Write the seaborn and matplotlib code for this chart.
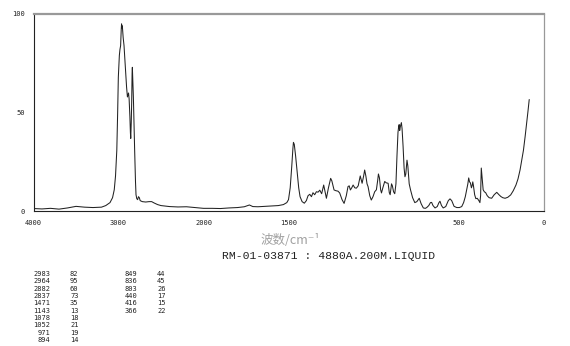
import numpy as np
import pandas as pd
import matplotlib
matplotlib.use("Agg")
import matplotlib.pyplot as plt
from matplotlib.ticker import FixedLocator, NullFormatter
import seaborn as sns

# ---- data ----
wavenumber = [
    4000, 3900, 3800, 3700, 3600, 3500, 3450, 3400, 3300, 3200, 3150, 3100, 3070, 3050, 3035,
    3020, 3010, 3002, 2990, 2983, 2975, 2968, 2964, 2960, 2955, 2945, 2935, 2925, 2916, 2905,
    2895, 2888, 2882, 2875, 2866, 2860, 2856, 2850, 2845, 2840, 2837, 2833, 2825, 2818, 2810,
    2800, 2794, 2785, 2775, 2765, 2755, 2745, 2720, 2680, 2640, 2610, 2580, 2540, 2500, 2400,
    2300, 2200, 2100, 2000,
    1950, 1900, 1850, 1800, 1760, 1730, 1710, 1680, 1640, 1600, 1560, 1530, 1510, 1500, 1490,
    1481, 1474, 1471, 1466, 1458, 1448, 1440, 1432, 1420, 1407, 1395, 1385, 1375, 1365, 1356,
    1346, 1336, 1326, 1316, 1305, 1293, 1285, 1277, 1265, 1252, 1245, 1232, 1220, 1209, 1199,
    1185, 1173, 1160, 1150, 1143, 1136, 1128, 1120, 1110, 1101, 1090, 1078, 1072, 1067, 1058,
    1052, 1045, 1038, 1032, 1022, 1013, 1003, 993, 983, 975, 971, 965, 958, 953, 945, 934,
    925, 914, 907, 902, 897, 894, 889, 882, 875, 868, 862, 856, 852, 849, 846, 842, 836, 832,
    826, 820, 815, 810, 803, 798, 790, 782, 770, 757, 745, 731, 720, 707, 695, 687, 675, 665,
    658, 650, 638, 625, 615, 609, 600, 590, 575, 560, 550, 540, 526, 510, 495, 481, 470, 460,
    452, 445, 440, 435, 430, 424, 420, 416, 412, 405, 398, 390, 380, 374, 370, 368, 366, 362,
    355, 348, 340, 331, 320, 305, 290, 275, 262, 251, 240, 226, 210, 193, 178, 162, 150, 138,
    128, 118, 108, 99, 91, 84,
]
intensity = [
    1.5, 1.3, 1.6, 1.2, 1.8, 2.6, 2.4, 2.2, 2.0, 2.2, 3.0, 4.5, 7, 11, 18,
    31, 50, 68, 79, 82, 84, 92, 95, 93, 94, 88, 84, 77, 70, 63,
    58, 59, 60, 57, 48, 40, 37, 45, 55, 70, 73, 68, 58, 45, 31,
    15, 8.5, 6.5, 6, 7.5, 7, 5.5, 5, 4.8, 5, 5, 4.3, 3.5, 3, 2.5,
    2.3, 2.4, 2.0, 1.6,
    1.6, 1.5, 1.8, 2.0, 2.4, 3.3, 2.5, 2.4, 2.6, 2.8, 3.0, 3.5, 4.5, 6, 12,
    22.7, 32, 35, 34, 28, 19, 12, 7.5, 5, 4.2, 5.5, 8, 8.7, 7.5, 9.5,
    8.5, 10, 9.8, 10.8, 9, 13.4, 10, 6.7, 12, 16.8, 15.5, 10.9, 10.5, 10.3, 9.4,
    6, 4.1, 8, 12.6, 13, 10.9, 12, 13.4, 12, 11.8, 13, 18, 16, 14.3, 18,
    21, 18, 14, 12.6, 8, 5.8, 7.5, 10, 11, 16, 19, 17, 11, 9.4, 12, 15.2,
    14.5, 14.3, 9.5, 8.5, 12, 14, 13, 10, 9, 14, 28, 40, 43, 44, 41, 43, 45, 42,
    33, 22, 17.6, 19, 26, 23, 14, 10.9, 7, 4.5, 5, 6.7, 4, 1.8, 1.6, 2, 3, 4.5,
    4.6, 3, 1.8, 2.5, 4.5, 5.2, 3, 1.8, 2.5, 5.5, 6.4, 5.5, 2.6, 2, 2, 2.5, 4.5, 7.5,
    11, 14, 17, 15, 14.5, 12, 13, 15, 13, 8.5, 6.5, 6.7, 5.5, 4.5, 8, 15, 22, 18,
    11, 10, 9.5, 8, 7, 6.7, 8.5, 9.7, 8.5, 7.6, 7, 6.7, 7.2, 8.4, 10.5, 13.4, 16.5, 21,
    26, 31, 38, 44.8, 51, 56.7,
]

peak_wn = [2983, 2964, 2882, 2837, 1471, 1143, 1078, 1052, 971, 894,
           849, 836, 803, 440, 416, 366]
peak_int = [82, 95, 60, 73, 35, 13, 18, 21, 19, 14,
            44, 45, 26, 17, 15, 22]

x_tick_labels = ["4000", "3000", "2000", "1500", "500", "0"]
x_tick_values = [4000, 3000, 2000, 1500, 500, 0]
y_tick_values = [0, 50, 100]

x_label = "波数/cm⁻¹"
sample_id = "RM-01-03871 : 4880A.200M.LIQUID"

df = pd.DataFrame({"wavenumber": wavenumber, "intensity": intensity})

sns.set_theme(style="white")
plt.rcParams["font.family"] = ["DejaVu Sans"]

fig = plt.figure(figsize=(5.70, 3.46), dpi=100)
ax = fig.add_axes([33.5 / 570, 1 - 211.5 / 346, 510 / 570, 197.5 / 346])


def fwd(x):
    x = np.asarray(x, dtype=float)
    return np.where(x > 2000, 2000 + (x - 2000) / 2.0, x)


def inv(y):
    y = np.asarray(y, dtype=float)
    return np.where(y > 2000, 2000 + (y - 2000) * 2.0, y)


ax.set_xscale("function", functions=(fwd, inv))

sns.lineplot(data=df, x="wavenumber", y="intensity", ax=ax, color="#222222",
             linewidth=0.75, sort=False, estimator=None)

ax.set_xlim(4000, 0)
ax.set_ylim(0, 100)
ax.set_xlabel("")
ax.set_ylabel("")

ax.xaxis.set_major_locator(FixedLocator(x_tick_values))
ax.set_xticklabels(x_tick_labels)
ax.xaxis.set_minor_locator(FixedLocator(list(range(0, 4001, 100))))
ax.xaxis.set_minor_formatter(NullFormatter())
ax.yaxis.set_major_locator(FixedLocator(y_tick_values))
ax.yaxis.set_minor_locator(FixedLocator(list(range(0, 101, 10))))
ax.yaxis.set_minor_formatter(NullFormatter())

ax.tick_params(axis="both", which="major", direction="out", length=4, width=0.7,
               colors="#333333", labelsize=5, labelcolor="#222222", pad=2)
ax.tick_params(axis="both", which="minor", direction="out", length=2, width=0.6,
               colors="#333333")
for lab in ax.get_xticklabels() + ax.get_yticklabels():
    lab.set_family("DejaVu Sans Mono")

for side in ["left", "bottom"]:
    ax.spines[side].set_color("#222222")
    ax.spines[side].set_linewidth(0.8)
ax.spines["top"].set_color("#999999")
ax.spines["top"].set_linewidth(1.6)
ax.spines["right"].set_color("#999999")
ax.spines["right"].set_linewidth(0.9)
ax.grid(False)

fig.text(290 / 570, 1 - 240 / 346, x_label, ha="center", va="center",
         fontsize=9, color="#a0a0a0",
         family=["Noto Sans CJK SC", "DejaVu Sans"])
fig.text(222 / 570, 1 - 256 / 346, sample_id, ha="left", va="center",
         fontsize=8.2, color="#222222", family="Liberation Mono")

# peak table
row_h = 7.33
for i, (w, v) in enumerate(zip(peak_wn, peak_int)):
    col = 0 if i < 10 else 1
    r = i if i < 10 else i - 10
    y = 1 - (274 + r * row_h) / 346
    xw = (50 if col == 0 else 137) / 570
    xv = (70 if col == 0 else 157) / 570
    fig.text(xw, y, str(w), ha="right", va="center", fontsize=5,
             color="#222222", family="DejaVu Sans Mono")
    fig.text(xv, y, str(v), ha="left", va="center", fontsize=5,
             color="#222222", family="DejaVu Sans Mono")

fig.savefig("out.png", dpi=100, facecolor="white")
